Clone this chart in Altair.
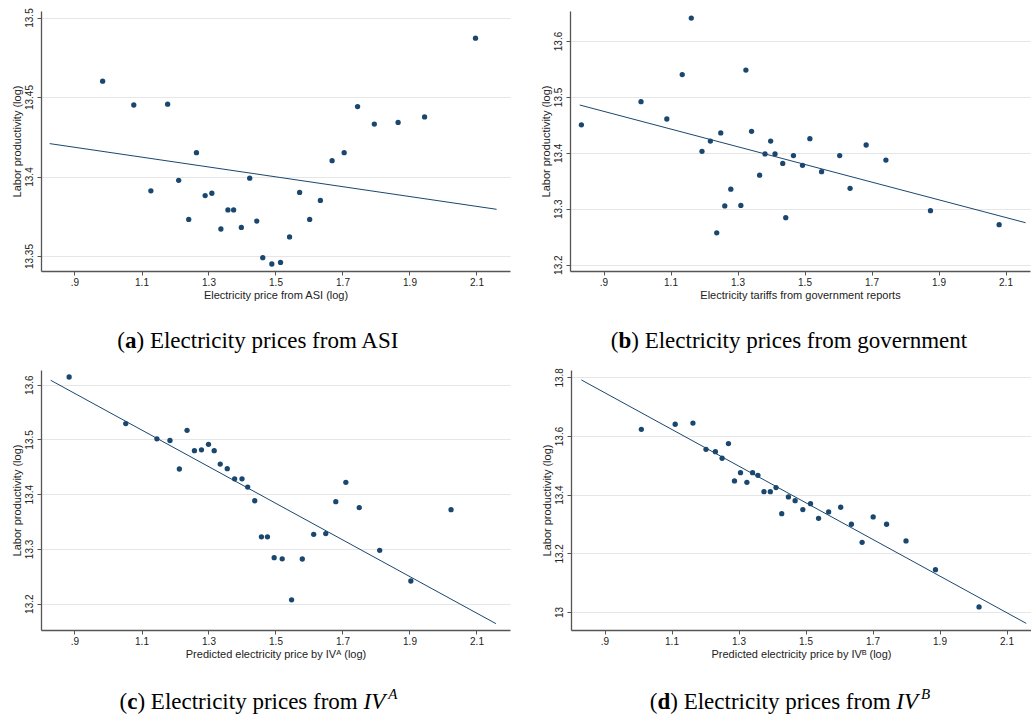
import altair as alt
import pandas as pd

NAVY = "#1a476f"
SERIF = "Liberation Serif"
SANS = "Liberation Sans"

# ---------------- data ----------------
x_ticks = [0.9, 1.1, 1.3, 1.5, 1.7, 1.9, 2.1]

# (a) Electricity prices from ASI
a_x = [0.984, 1.077, 1.178, 1.128, 1.211, 1.241, 1.264, 1.290, 1.310, 1.337,
       1.358, 1.375, 1.398, 1.423, 1.444, 1.462, 1.489, 1.515, 1.542, 1.572,
       1.602, 1.634, 1.669, 1.705, 1.745, 1.795, 1.866, 1.945, 2.097]
a_y = [13.460, 13.445, 13.4455, 13.391, 13.3976, 13.373, 13.415, 13.388, 13.3895, 13.367,
       13.379, 13.379, 13.368, 13.399, 13.372, 13.349, 13.345, 13.346, 13.362, 13.390,
       13.373, 13.385, 13.410, 13.415, 13.444, 13.433, 13.434, 13.4375, 13.487]
a_fit_x = [0.826, 2.160]
a_fit_y = [13.4207, 13.3794]
a_yticks = [13.35, 13.4, 13.45, 13.5]

# (b) Electricity prices from government
b_x = [0.834, 1.012, 1.089, 1.135, 1.162, 1.194, 1.219, 1.238, 1.250, 1.262,
       1.280, 1.310, 1.325, 1.342, 1.366, 1.382, 1.399, 1.412, 1.435, 1.444,
       1.467, 1.494, 1.516, 1.551, 1.605, 1.636, 1.684, 1.743, 1.876, 2.081]
b_y = [13.450, 13.4915, 13.4605, 13.540, 13.641, 13.4027, 13.421, 13.257, 13.4355, 13.305,
       13.335, 13.306, 13.548, 13.4385, 13.360, 13.398, 13.421, 13.398, 13.381, 13.284,
       13.395, 13.3777, 13.4253, 13.3663, 13.395, 13.3365, 13.414, 13.387, 13.2966, 13.2715]
b_fit_x = [0.829, 2.160]
b_fit_y = [13.4855, 13.275]
b_yticks = [13.2, 13.3, 13.4, 13.5, 13.6]

# (c) Electricity prices from IV^A
c_x = [0.884, 1.053, 1.146, 1.185, 1.213, 1.236, 1.258, 1.279, 1.300, 1.317,
       1.335, 1.356, 1.378, 1.400, 1.417, 1.438, 1.458, 1.476, 1.496, 1.520,
       1.548, 1.580, 1.614, 1.650, 1.680, 1.710, 1.750, 1.811, 1.904, 2.024]
c_y = [13.614, 13.529, 13.501, 13.498, 13.446, 13.5166, 13.4795, 13.481, 13.491, 13.4795,
       13.455, 13.4466, 13.428, 13.428, 13.413, 13.388, 13.322, 13.322, 13.284, 13.282,
       13.207, 13.2816, 13.3266, 13.328, 13.3863, 13.4216, 13.3753, 13.2974, 13.2414, 13.3717]
c_fit_x = [0.829, 2.158]
c_fit_y = [13.608, 13.1635]
c_yticks = [13.2, 13.3, 13.4, 13.5, 13.6]

# (d) Electricity prices from IV^B
d_x = [1.010, 1.111, 1.164, 1.203, 1.231, 1.251, 1.270, 1.288, 1.306, 1.325,
       1.342, 1.358, 1.376, 1.395, 1.412, 1.429, 1.449, 1.469, 1.492, 1.515,
       1.539, 1.569, 1.605, 1.637, 1.669, 1.702, 1.742, 1.800, 1.888, 2.018]
d_y = [13.6227, 13.640, 13.644, 13.5545, 13.5466, 13.524, 13.574, 13.4466, 13.475, 13.442,
       13.475, 13.466, 13.410, 13.410, 13.424, 13.335, 13.392, 13.3795, 13.349, 13.369,
       13.3193, 13.341, 13.357, 13.299, 13.2375, 13.324, 13.299, 13.242, 13.1443, 13.017]
d_fit_x = [0.831, 2.159]
d_fit_y = [13.791, 12.961]
d_yticks = [13.0, 13.2, 13.4, 13.6, 13.8]

# ---------------- caption helpers (approximate Times metrics) ----------------
REG = {" ": 250, "(": 333, ")": 333, "E": 611, "l": 278, "e": 444, "c": 444, "t": 278,
       "r": 333, "i": 278, "y": 500, "p": 500, "s": 389, "f": 333, "o": 500, "m": 778,
       "A": 722, "S": 556, "I": 333, "g": 500, "v": 500, "n": 500}
BOLD = {"a": 500, "b": 556, "c": 444, "d": 556}
ITAL = {"I": 333, "V": 611, "A": 611, "B": 611}
ONE = alt.Data(values=[{"k": 1}])


def width(s, table, size):
    return sum(table.get(ch, 500) for ch in s) / 1000.0 * size


def caption(letter, rest, ital, sup, cx, y):
    fs, sfs = 23, 15
    # (text, weight, style, size, dy, metrics, extra gap before)
    segs = [("(", "normal", "normal", fs, 0, REG, 0),
            (letter, "bold", "normal", fs, 0, BOLD, 0),
            (rest, "normal", "normal", fs, 0, REG, 0)]
    if ital:
        segs.append((ital, "normal", "italic", fs, 0, ITAL, 0))
        segs.append((sup, "normal", "italic", sfs, -10, ITAL, 3))
    widths = [width(s[0], s[5], s[3]) + s[6] for s in segs]
    x = cx - sum(widths) / 2.0
    out = []
    for (txt, fw, st, size, dy, _, gap), w in zip(segs, widths):
        x += gap
        out.append(
            alt.Chart(ONE).mark_text(
                text=txt, font=SERIF, fontSize=size, fontWeight=fw, fontStyle=st,
                align="left", baseline="alphabetic", color="black", dy=dy,
            ).encode(x=alt.value(x), y=alt.value(y))
        )
        x += w - gap
    return out


def panel(xs, ys, fx, fy, xdom, ydom, yticks, w, h, xtitle, cap):
    pts = pd.DataFrame({"x": xs, "y": ys})
    fit = pd.DataFrame({"x": fx, "y": fy})
    xscale = alt.Scale(domain=xdom, nice=False, zero=False)
    yscale = alt.Scale(domain=ydom, nice=False, zero=False)
    xaxis = alt.Axis(values=x_ticks, title=xtitle, grid=False,
                     labelExpr="substring(format(datum.value, '.1f'), datum.value < 1 ? 1 : 0)")
    yaxis = alt.Axis(values=yticks, title="Labor productivity (log)", grid=True, format=".2~f")
    line = alt.Chart(fit).mark_line(color=NAVY, strokeWidth=1).encode(
        x=alt.X("x:Q", scale=xscale, axis=xaxis),
        y=alt.Y("y:Q", scale=yscale, axis=yaxis),
    )
    dots = alt.Chart(pts).mark_circle(size=28, color=NAVY, opacity=1).encode(
        x=alt.X("x:Q", scale=xscale, axis=xaxis),
        y=alt.Y("y:Q", scale=yscale, axis=yaxis),
    )
    return alt.layer(line, dots, *cap).properties(width=w, height=h)


H = 260
pa = panel(a_x, a_y, a_fit_x, a_fit_y, [0.8, 2.2], [13.3406, 13.5041], a_yticks, 469, H,
           "Electricity price from ASI (log)",
           caption("a", ") Electricity prices from ASI", None, None, 217.5, 337))
pb = panel(b_x, b_y, b_fit_x, b_fit_y, [0.8, 2.1731], [13.1887, 13.6536], b_yticks, 460, H,
           "Electricity tariffs from government reports",
           caption("b", ") Electricity prices from government", None, None, 219, 337))
pc = panel(c_x, c_y, c_fit_x, c_fit_y, [0.8, 2.2], [13.1519, 13.6268], c_yticks, 469, H,
           "Predicted electricity price by IV\u1d2c (log)",
           caption("c", ") Electricity prices from ", "IV", "A", 217.5, 339))
pd_ = panel(d_x, d_y, d_fit_x, d_fit_y, [0.8, 2.1731], [12.9385, 13.8249], d_yticks, 460, H,
            "Predicted electricity price by IV\u1d2e (log)",
            caption("d", ") Electricity prices from ", "IV", "B", 219, 339))

chart = alt.vconcat(
    alt.hconcat(pa, pb, spacing=30),
    alt.hconcat(pc, pd_, spacing=30),
    spacing=14,
).properties(
    padding={"left": 10, "top": 7, "right": 0, "bottom": 0},
    background="white",
).configure_view(stroke=None).configure_axis(
    labelFont=SANS, labelFontSize=10, labelColor="#222",
    titleFont=SANS, titleFontSize=11, titleFontWeight="normal", titleColor="#222",
    domainColor="#555", domainWidth=1.3, tickColor="#555", tickSize=4,
    gridColor="#e6e6e6", gridWidth=1, labelPadding=2, titlePadding=2,
).configure_axisY(
    labelAngle=270, labelAlign="center", labelBaseline="bottom", labelPadding=3,
)

chart.save("out.html", embed_options={"renderer": "svg", "actions": False})
